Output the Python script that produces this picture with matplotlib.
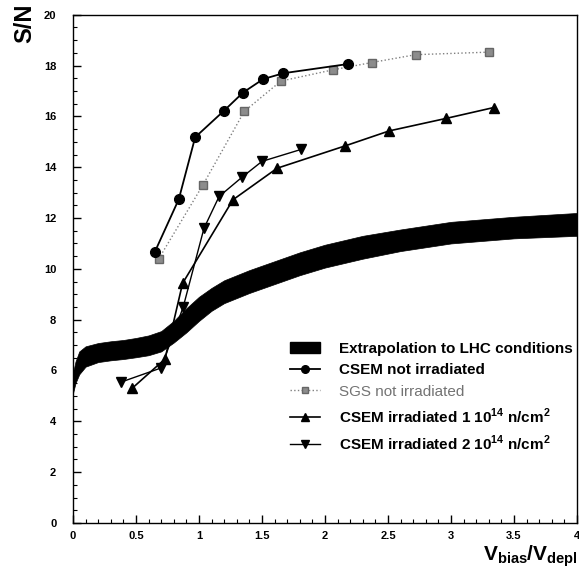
import numpy as np
import matplotlib as mpl
mpl.use('Agg')
from matplotlib import pyplot as plt
from matplotlib.patches import Patch
from matplotlib.lines import Line2D
from matplotlib.ticker import MultipleLocator

mpl.rcParams['font.family'] = ['Liberation Sans', 'DejaVu Sans']
mpl.rcParams['mathtext.fontset'] = 'custom'
mpl.rcParams['mathtext.rm'] = 'Liberation Sans'
mpl.rcParams['mathtext.bf'] = 'Liberation Sans:bold'

# extrapolation band (lower / upper edge)
band_x = [0, 0.02, 0.05, 0.1, 0.2, 0.3, 0.4, 0.5, 0.6, 0.7, 0.8, 0.9, 1.0, 1.1,
          1.2, 1.4, 1.6, 1.8, 2.0, 2.3, 2.6, 3.0, 3.5, 4.0]
band_lo = [5.1, 5.5, 5.85, 6.15, 6.33, 6.4, 6.45, 6.52, 6.6, 6.75, 7.1, 7.5, 7.95,
           8.35, 8.65, 9.05, 9.4, 9.75, 10.05, 10.4, 10.7, 11.0, 11.2, 11.3]
band_hi = [5.9, 6.35, 6.75, 6.95, 7.08, 7.15, 7.2, 7.28, 7.38, 7.55, 7.95, 8.45, 8.9,
           9.25, 9.55, 9.95, 10.3, 10.65, 10.95, 11.3, 11.55, 11.85, 12.05, 12.2]

# CSEM not irradiated
csem_x = [0.65, 0.84, 0.97, 1.20, 1.35, 1.51, 1.67, 2.18]
csem_y = [10.67, 12.74, 15.18, 16.23, 16.94, 17.47, 17.70, 18.06]

# SGS not irradiated
sgs_x = [0.68, 1.03, 1.36, 1.65, 2.06, 2.37, 2.72, 3.30]
sgs_y = [10.39, 13.29, 16.2, 17.39, 17.83, 18.12, 18.43, 18.53]

# CSEM irradiated 1e14
irr1_x = [0.47, 0.73, 0.87, 1.27, 1.62, 2.16, 2.51, 2.96, 3.34]
irr1_y = [5.30, 6.45, 9.43, 12.72, 13.96, 14.84, 15.43, 15.92, 16.35]

# CSEM irradiated 2e14
irr2_x = [0.38, 0.70, 0.875, 1.04, 1.16, 1.34, 1.50, 1.81]
irr2_y = [5.54, 6.10, 8.50, 11.60, 12.85, 13.60, 14.23, 14.70]

fig = plt.figure(figsize=(5.79, 5.69), dpi=100)
ax = fig.add_axes([0.126, 0.081, 0.8705, 0.893])

ax.fill_between(band_x, band_lo, band_hi, color='black', lw=0.5, zorder=2)
ax.plot(csem_x, csem_y, color='black', lw=1.3, marker='o', ms=7, zorder=4)
ax.plot(sgs_x, sgs_y, color='0.5', lw=1.0, ls=':', marker='s', ms=5.5,
        mfc='0.55', mec='0.4', zorder=3)
ax.plot(irr1_x, irr1_y, color='black', lw=1.2, marker='^', ms=6.5, zorder=3)
ax.plot(irr2_x, irr2_y, color='black', lw=1.0, marker='v', ms=6.5, zorder=3)

ax.set_xlim(0, 4)
ax.set_ylim(0, 20)
ax.xaxis.set_major_locator(MultipleLocator(0.5))
ax.xaxis.set_minor_locator(MultipleLocator(0.1))
ax.yaxis.set_major_locator(MultipleLocator(2))
ax.yaxis.set_minor_locator(MultipleLocator(0.5))
ax.tick_params(which='both', direction='in', top=False, right=False)
ax.tick_params(which='major', length=6, width=1)
ax.tick_params(which='minor', length=3, width=0.8)
ax.tick_params(axis='y', pad=12)
ax.tick_params(axis='x', pad=6)
ax.xaxis.set_major_formatter(mpl.ticker.FuncFormatter(lambda v, p: '%g' % v))
for lab in ax.get_xticklabels() + ax.get_yticklabels():
    lab.set_fontweight('bold')
    lab.set_fontsize(8)
for s in ax.spines.values():
    s.set_linewidth(1.0)

fig.text(0.042, 0.994, 'S/N', rotation=90, ha='center', va='top',
         fontsize=17, fontweight='bold')
fig.text(0.834, 0.0141, r'$\mathbf{V_{bias}/V_{depl}}$', ha='left', va='baseline',
         fontsize=15)

handles = [
    Patch(facecolor='black', edgecolor='black'),
    Line2D([], [], color='black', lw=1.3, marker='o', ms=5.5),
    Line2D([], [], color='0.5', lw=1.0, ls=':', marker='s', ms=4.5, mfc='0.55', mec='0.4'),
    Line2D([], [], color='black', lw=1.2, marker='^', ms=5.5),
    Line2D([], [], color='black', lw=1.0, marker='v', ms=5.5),
]
labels = [
    'Extrapolation to LHC conditions',
    'CSEM not irradiated',
    'SGS not irradiated',
    r'CSEM irradiated 1 10$^{\mathbf{14}}$ n/cm$^{\mathbf{2}}$',
    r'CSEM irradiated 2 10$^{\mathbf{14}}$ n/cm$^{\mathbf{2}}$',
]
leg = ax.legend(handles, labels, loc='upper left', bbox_to_anchor=(0.416, 0.372),
                frameon=False, fontsize=11, handlelength=1.95, handletextpad=1.25,
                labelspacing=0.5, borderpad=0)
for i, t in enumerate(leg.get_texts()):
    if i == 2:
        t.set_color('0.45')
    else:
        t.set_fontweight('bold')

fig.savefig('out.png', dpi=100)
